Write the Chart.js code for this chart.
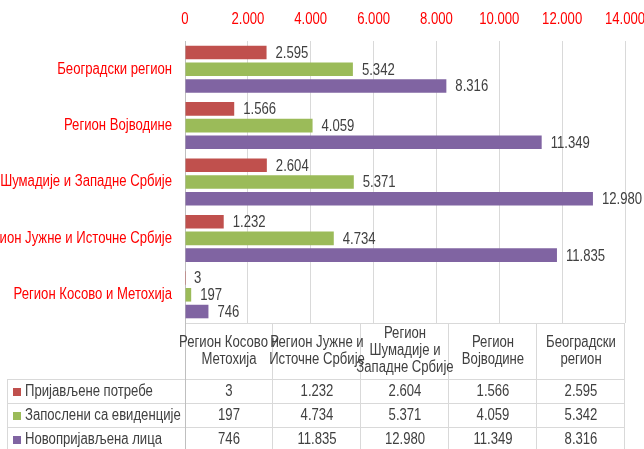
<!DOCTYPE html>
<html>
<head>
<meta charset="utf-8">
<script src="https://cdn.jsdelivr.net/npm/chart.js@4/dist/chart.umd.min.js"></script>
<style>
  html, body { margin: 0; padding: 0; background: #fff; }
  #wrap { width: 644px; height: 449px; }
</style>
</head>
<body>
<div id="wrap"><canvas id="regionChart" width="644" height="449"></canvas></div>
<script>
// regions, listed in table order (bottom to top on the chart)
const regions = [
  "Регион Косово и Метохија",
  "Регион Јужне и Источне Србије",
  "Регион Шумадије и Западне Србије",
  "Регион Војводине",
  "Београдски регион"
];
// header lines for the data table under the chart
const headerLines = [
  ["Регион Косово и", "Метохија"],
  ["Регион Јужне и", "Источне Србије"],
  ["Регион", "Шумадије и", "Западне Србије"],
  ["Регион", "Војводине"],
  ["Београдски", "регион"]
];
const seriesNames = ["Пријављене потребе", "Запослени са евиденције", "Новопријављена лица"];
const reportedNeeds = [3, 1232, 2604, 1566, 2595];
const employed = [197, 4734, 5371, 4059, 5342];
const newlyRegistered = [746, 11835, 12980, 11349, 8316];
const xTicks = [0, 2000, 4000, 6000, 8000, 10000, 12000, 14000];

const seriesColors = ["#C0504D", "#9BBB59", "#8064A2"];
const FONT = "16px 'Liberation Sans', Arial, sans-serif";
const SQUEEZE = 0.82; // narrow face look
const TEXT = "#404040";
const RED = "#FF0000";
const LINE = "#D9D9D9";

function fmt(v) {
  return String(v).replace(/\B(?=(\d{3})+(?!\d))/g, ".");
}

// draws condensed text: horizontal squeeze around the anchor point
function narrowText(ctx, str, x, y, align, color) {
  ctx.save();
  ctx.font = FONT;
  ctx.fillStyle = color;
  ctx.textAlign = align;
  ctx.textBaseline = "middle";
  ctx.translate(x, y);
  ctx.scale(SQUEEZE, 1);
  ctx.fillText(str, 0, 0);
  ctx.restore();
}

// axis tick labels, placed with the chart's own scales
const axisLabels = {
  id: "axisLabels",
  afterDraw(chart) {
    const ctx = chart.ctx;
    const xs = chart.scales.x;
    const ys = chart.scales.y;
    xTicks.forEach(v => {
      narrowText(ctx, fmt(v), xs.getPixelForValue(v), 20, "center", RED);
    });
    regions.forEach((name, i) => {
      narrowText(ctx, name, chart.chartArea.left - 13, ys.getPixelForValue(i), "right", RED);
    });
  }
};

// value labels just past the end of every bar
const barLabels = {
  id: "barLabels",
  afterDatasetsDraw(chart) {
    const ctx = chart.ctx;
    chart.data.datasets.forEach((ds, i) => {
      chart.getDatasetMeta(i).data.forEach((bar, j) => {
        narrowText(ctx, fmt(ds.data[j]), bar.x + 9, bar.y + 1, "left", TEXT);
      });
    });
  }
};

// data table drawn under the plot area, columns follow the x range
const dataTable = {
  id: "dataTable",
  afterDraw(chart) {
    const ctx = chart.ctx;
    const area = chart.chartArea;
    const n = regions.length;
    const colW = (area.right - area.left) / n;
    const top = area.bottom;
    const headH = 56;
    const rowH = 24;
    const tableLeft = 7;
    const bottom = top + headH + rowH * seriesNames.length;

    ctx.save();
    ctx.strokeStyle = LINE;
    ctx.lineWidth = 1;
    ctx.beginPath();
    // header top border
    ctx.moveTo(area.left, top + 0.5);
    ctx.lineTo(area.right, top + 0.5);
    // row borders
    for (let r = 0; r <= seriesNames.length; r++) {
      const y = Math.round(top + headH + r * rowH) + 0.5;
      ctx.moveTo(tableLeft, y);
      ctx.lineTo(area.right, y);
    }
    // column borders
    for (let c = 1; c <= n; c++) {
      const x = Math.round(area.left + c * colW) - 0.5;
      ctx.moveTo(x, top);
      ctx.lineTo(x, bottom);
    }
    ctx.moveTo(tableLeft + 0.5, top + headH);
    ctx.lineTo(tableLeft + 0.5, bottom);
    ctx.stroke();

    ctx.strokeStyle = "#BFBFBF";
    ctx.beginPath();
    ctx.moveTo(area.left + 0.5, top);
    ctx.lineTo(area.left + 0.5, bottom);
    ctx.stroke();
    ctx.restore();

    // column headers
    headerLines.forEach((lines, c) => {
      const cx = area.left + (c + 0.5) * colW;
      const lh = 17;
      const y0 = top + headH / 2 - (lines.length - 1) * lh / 2;
      lines.forEach((line, k) => narrowText(ctx, line, cx, y0 + k * lh, "center", TEXT));
    });

    // rows: legend key, series name, values
    const rows = [reportedNeeds, employed, newlyRegistered];
    rows.forEach((vals, r) => {
      const cy = top + headH + r * rowH + rowH / 2 + 1;
      ctx.fillStyle = seriesColors[r];
      ctx.fillRect(13, Math.round(cy - 4), 8, 8);
      narrowText(ctx, seriesNames[r], 25, cy, "left", TEXT);
      vals.forEach((v, c) => {
        narrowText(ctx, fmt(v), area.left + (c + 0.5) * colW, cy, "center", TEXT);
      });
    });
  }
};

new Chart(document.getElementById("regionChart"), {
  type: "bar",
  data: {
    labels: regions,
    datasets: [
      { label: seriesNames[0], data: reportedNeeds, backgroundColor: seriesColors[0] },
      { label: seriesNames[1], data: employed, backgroundColor: seriesColors[1] },
      { label: seriesNames[2], data: newlyRegistered, backgroundColor: seriesColors[2] }
    ]
  },
  options: {
    indexAxis: "y",
    responsive: false,
    animation: false,
    categoryPercentage: 0.89,
    barPercentage: 0.81,
    layout: { padding: { right: 19, bottom: 126 } },
    plugins: {
      legend: { display: false },
      tooltip: { enabled: false }
    },
    scales: {
      x: {
        position: "top",
        min: 0,
        max: 14000,
        afterBuildTicks: scale => {
          scale.ticks = xTicks.map(v => ({ value: v }));
        },
        afterFit: scale => {
          scale.height = 41;
          scale.paddingLeft = 0;
          scale.paddingRight = 0;
        },
        ticks: { display: false },
        grid: { color: LINE, drawTicks: false },
        border: { display: false }
      },
      y: {
        reverse: true,
        afterFit: scale => {
          scale.width = 185;
          scale.paddingTop = 0;
          scale.paddingBottom = 0;
        },
        ticks: { display: false },
        grid: { display: false, drawTicks: false },
        border: { color: "#BFBFBF" }
      }
    }
  },
  plugins: [barLabels, dataTable, axisLabels]
});
</script>
</body>
</html>
